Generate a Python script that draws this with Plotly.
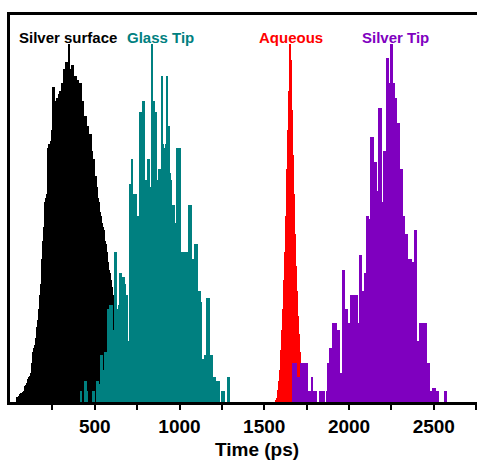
import plotly.graph_objects as go

# Histogram bins (ps): every series uses the same bin width, bins start at the given left edge
bin_width = 5.9
silver_surface_start = 39.8
glass_tip_start = 411.5
aqueous_start = 1567.8
silver_tip_start = 1656.3

silver_surface_counts = [
    1.4, 1.4, 1.6, 2.3, 2.5, 2.5, 2.8, 3.2, 4.5, 4.7, 5.2, 6.5, 7, 7.3, 8, 11, 14, 15, 16, 18,
    21, 23, 26, 30, 33, 40, 45, 49, 56, 57, 58, 71, 72, 72, 73, 76, 88, 88, 84, 84,
    85, 85, 86, 87, 87, 89, 89, 93, 93, 95, 95, 95, 100, 93, 93, 94, 94, 91, 91, 91,
    90, 90, 89, 89, 89, 84, 84, 80, 80, 80, 77, 77, 75, 75, 75, 70, 68, 68, 63, 63,
    60, 57, 56, 53, 52, 50, 49, 48, 45, 44, 42, 39, 37, 36, 34, 32, 30, 29, 27, 25,
    22, 19, 17, 14, 12, 10, 7, 6, 4, 3, 2, 2, 1,
]

glass_tip_counts = [
    0, 3, 0, 0, 0, 6, 6, 3, 0, 0, 0, 0, 0, 3, 3, 0, 0, 6, 6, 5,
    0, 13, 13, 9, 9, 14, 14, 8, 26, 26, 27, 24, 27, 20, 20, 42, 42, 26, 26, 27,
    36, 36, 35, 35, 35, 33, 29, 30, 17, 17, 61, 61, 68, 50, 58, 58, 58, 52, 52, 52,
    81, 81, 73, 84, 84, 62, 62, 62, 68, 68, 60, 60, 100, 84, 84, 81, 81, 62, 62, 65,
    65, 65, 91, 72, 71, 71, 72, 91, 77, 77, 64, 62, 55, 55, 55, 48, 50, 71, 71, 71,
    71, 42, 42, 42, 25, 42, 42, 42, 42, 55, 55, 55, 40, 40, 38, 44, 44, 44, 31, 31,
    31, 28, 12, 12, 12, 13, 12, 29, 29, 29, 13, 13, 13, 7, 7, 7, 6, 6, 6, 6,
    0, 0, 3, 3, 3, 0, 0, 0, 7, 7, 0,
]

aqueous_counts = [
    0.3, 1.1, 3.4, 6, 9, 14.5, 20, 26, 34, 42, 52, 65, 76, 87, 100, 95.5, 81.5, 69, 58, 47,
    38, 31, 24, 19, 14, 10, 7.5, 5.3, 3.4, 2.2, 1.4, 0.8, 0.5,
]

silver_tip_counts = [
    0, 0, 11, 11, 11, 11, 7, 7, 7, 0, 11, 11, 11, 10, 11, 11, 11, 3, 3, 3,
    3, 7, 3, 3, 3, 3, 0, 0, 0, 3, 3, 0, 3, 3, 0, 0, 3, 11, 11, 15,
    15, 15, 22, 22, 22, 22, 20, 20, 20, 8, 8, 8, 37, 37, 26, 26, 26, 22, 22, 22,
    30, 30, 30, 30, 30, 30, 30, 22, 22, 41, 41, 31, 31, 31, 36, 36, 52, 52, 51, 44,
    74, 74, 74, 67, 67, 67, 59, 59, 82, 82, 82, 56, 56, 70, 70, 70, 96, 96, 89, 89,
    100, 100, 89, 89, 85, 85, 78, 78, 78, 65, 65, 65, 52, 52, 47, 47, 47, 40, 40, 40,
    40, 39, 39, 39, 48, 48, 17, 17, 17, 22, 22, 22, 22, 22, 22, 22, 11, 11, 11, 3,
    3, 3, 4, 4, 4, 0, 3, 3, 0, 0, 0, 0, 0, 0, 3, 3, 0,
]

series_names = ["Silver surface", "Glass Tip", "Aqueous", "Silver Tip"]
series_colors = ["#000000", "#008080", "#FF0000", "#7F00BF"]
label_times = [341, 889, 1656, 2276]

tick_major = [500, 1000, 1500, 2000, 2500]
tick_minor = [250, 750, 1250, 1750, 2250, 2750]
x_title = "Time (ps)"


def centers(start, counts):
    return [start + (i + 0.5) * bin_width for i in range(len(counts))]


fig = go.Figure()
for name, start, counts, color in zip(
    series_names,
    [silver_surface_start, glass_tip_start, aqueous_start, silver_tip_start],
    [silver_surface_counts, glass_tip_counts, aqueous_counts, silver_tip_counts],
    series_colors,
):
    fig.add_trace(go.Bar(
        x=centers(start, counts), y=counts, width=bin_width, name=name,
        marker=dict(color=color, line=dict(width=0)), showlegend=False,
        hoverinfo="skip",
    ))

for name, t, color in zip(series_names, label_times, series_colors):
    fig.add_annotation(
        x=t, y=0.943, xref="x", yref="paper", text=f"<b>{name}</b>", showarrow=False,
        font=dict(family="Liberation Sans, Arial", size=15, color=color),
        xanchor="center", yanchor="middle",
    )

fig.add_annotation(
    x=0.528, y=-0.124, xref="paper", yref="paper", text=f"<b>{x_title}</b>", showarrow=False,
    font=dict(family="Liberation Sans, Arial", size=19, color="black"),
    xanchor="center", yanchor="middle",
)

fig.update_layout(
    width=477, height=462,
    margin=dict(l=10, r=0, t=15, b=60),
    paper_bgcolor="white", plot_bgcolor="white",
    barmode="overlay", bargap=0,
    xaxis=dict(
        range=[0, 2755], showline=True, linecolor="black", linewidth=3, mirror=True,
        showgrid=False, zeroline=False,
        tickvals=tick_major, ticktext=[f"<b>{v}</b>" for v in tick_major],
        ticks="outside", ticklen=5, tickwidth=2, tickcolor="black",
        tickfont=dict(family="Liberation Sans, Arial", size=19, color="black"),
        minor=dict(tickvals=tick_minor, ticks="outside", ticklen=5, tickwidth=2, tickcolor="black"),
    ),
    yaxis=dict(
        range=[0, 108.1], showline=True, linecolor="black", linewidth=3,
        showgrid=False, zeroline=False, showticklabels=False, ticks="",
    ),
)

# remove the page's default body margin so the figure sits at the window's top-left corner
fig.write_html(
    "out.html",
    config={"displayModeBar": False},
    post_script="document.body.style.margin='0';document.body.style.overflow='hidden';",
)
